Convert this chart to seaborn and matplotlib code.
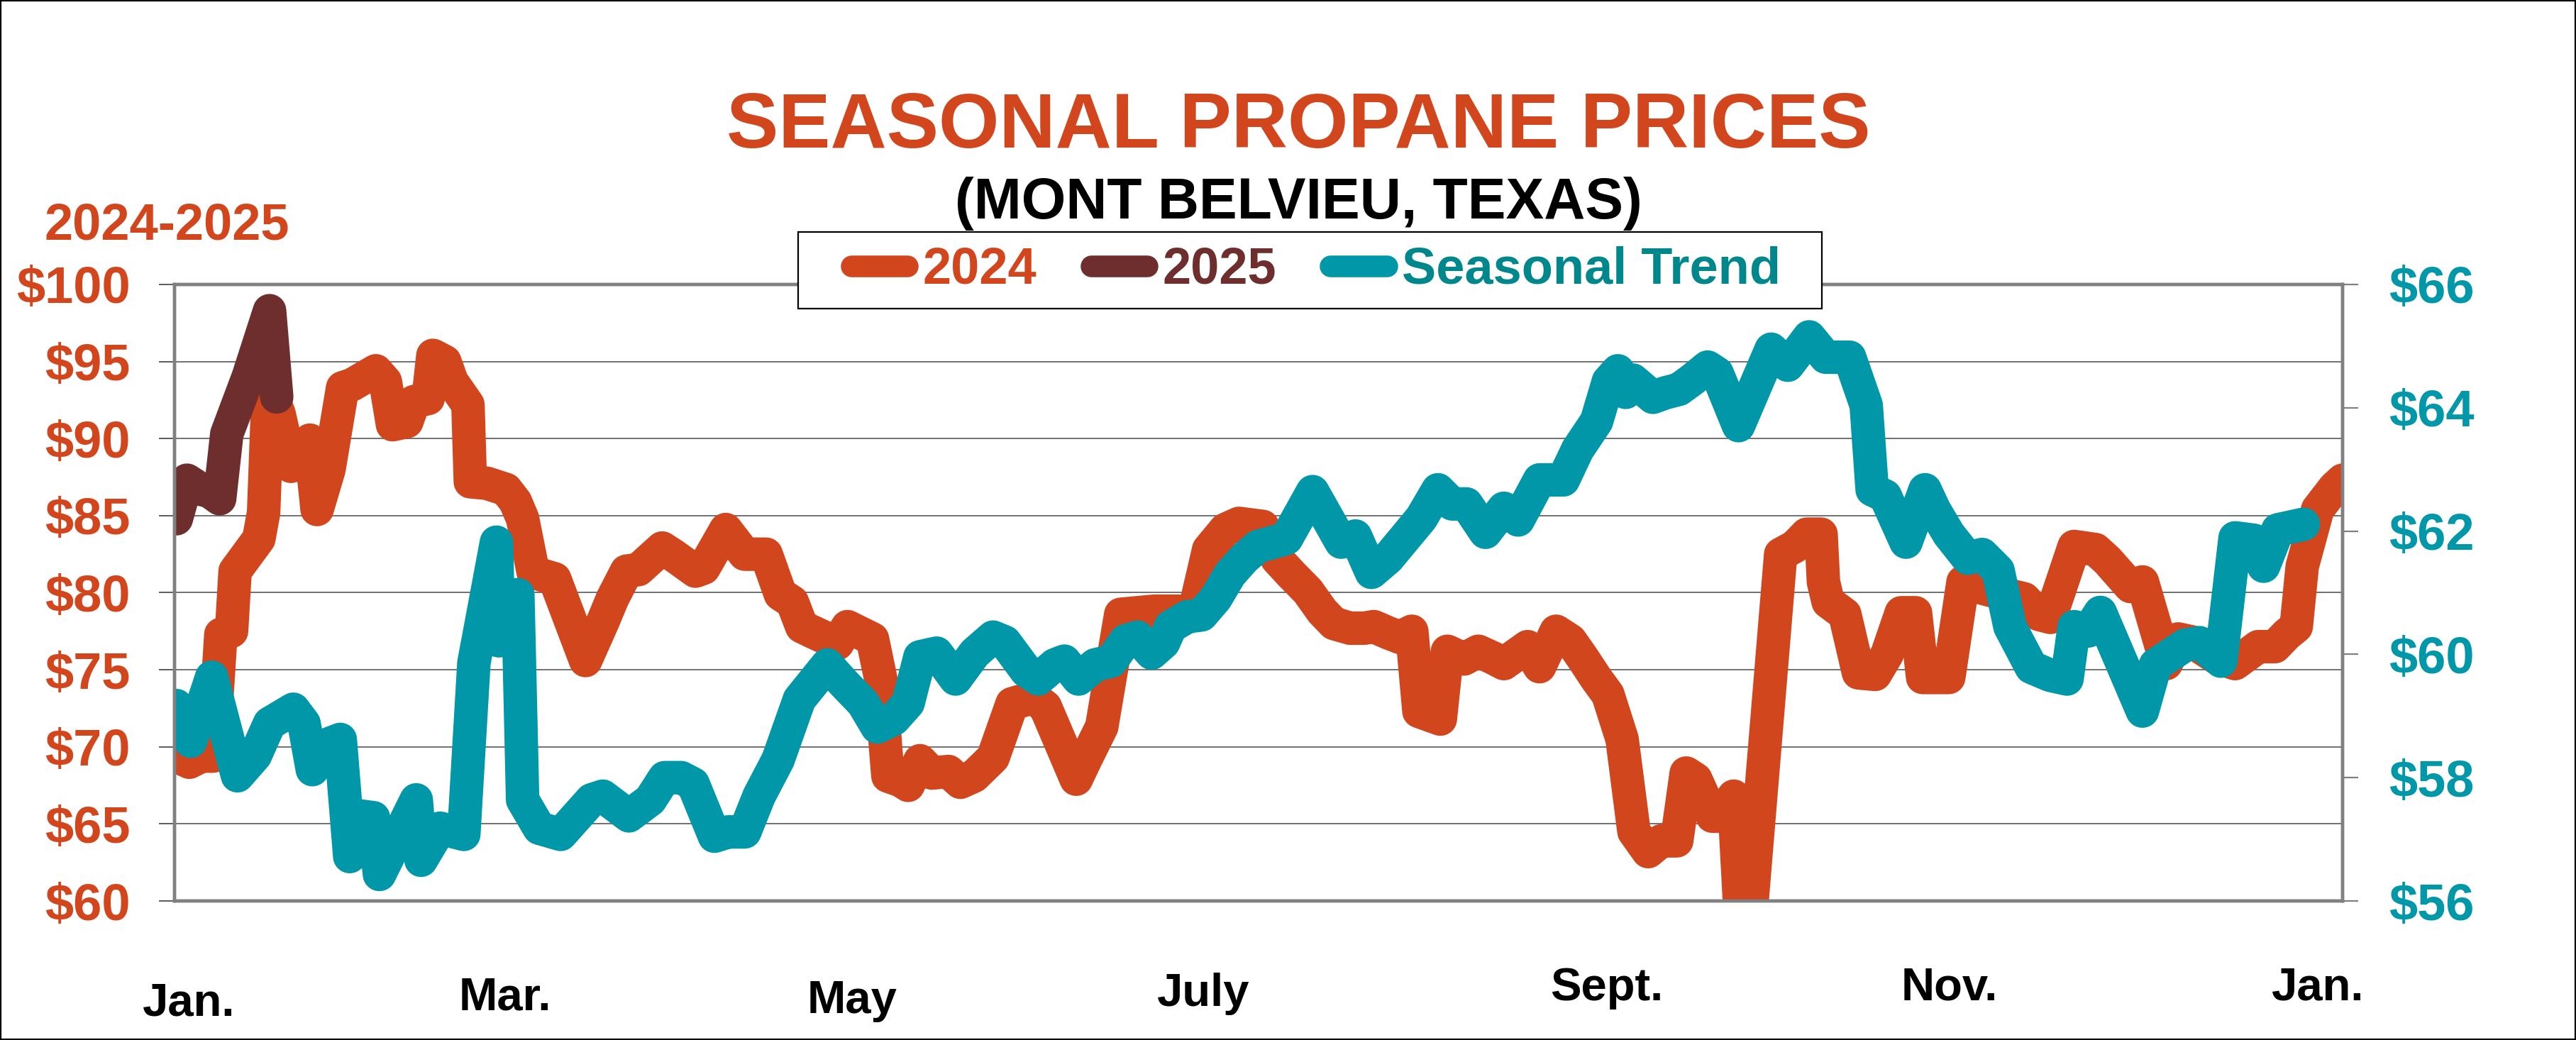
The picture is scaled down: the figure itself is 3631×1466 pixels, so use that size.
import matplotlib
matplotlib.use("Agg")
import matplotlib.pyplot as plt
from matplotlib.lines import Line2D
from matplotlib.patches import Rectangle
import seaborn as sns
import pandas as pd

# ---------------- data (x = day of year) ----------------
orange_days = [0.3, 2.5, 4.5, 6.5, 7.8, 9.6, 10.2, 14.2, 15.0, 15.8, 17.6, 19.6, 21.0, 22.8, 24.0, 26.0,
               28.3, 29.9, 33.9, 35.5, 36.7, 39.1, 40.3, 42.7, 43.5, 45.5, 46.7, 49.4, 49.8, 52.6, 55.8,
               57.4, 58.6, 60.4, 61.4, 64.0, 69.2, 72.2, 73.7, 76.1, 78.1, 82.1, 84.1, 87.7, 89.1, 92.8,
               96.0, 99.6, 102.0, 104.0, 105.6, 107.2, 110.0, 111.6, 113.3, 117.5, 118.9, 119.7, 120.1,
               122.3, 123.5, 125.5, 127.5, 130.3, 132.3, 134.6, 137.8, 141.0, 144.6, 146.6, 151.8, 153.4,
               156.1, 159.3, 164.9, 171.7, 174.1, 176.9, 179.2, 183.2, 185.6, 188.0, 190.8, 193.2, 195.2,
               197.9, 200.3, 201.9, 204.3, 206.3, 208.3, 209.5, 213.1, 214.3, 217.1, 219.5, 221.8, 223.8,
               227.8, 229.8, 232.6, 235.0, 237.0, 239.4, 241.3, 243.7, 245.7, 248.1, 250.3, 252.9, 254.5,
               256.1, 258.9, 260.5, 262.5, 263.7, 265.2, 270.4, 272.8, 274.8, 277.2, 277.6, 278.4, 281.2,
               283.5, 286.3, 288.3, 290.7, 293.1, 294.3, 298.7, 301.1, 304.3, 308.2, 311.4, 313.8, 315.8,
               319.8, 323.4, 325.4, 329.3, 331.3, 335.3, 337.3, 339.7, 343.7, 346.9, 350.8, 353.6, 355.6,
               357.2, 358.2, 360.8, 363.6, 365.0]
orange_vals = [69.4, 69.0, 69.4, 69.4, 77.3, 77.5, 81.4, 83.5, 85.2, 93.5, 91.6, 88.2, 88.4, 89.9, 85.4, 88.0,
               93.3, 93.5, 94.4, 93.7, 90.9, 91.1, 92.4, 92.6, 95.4, 95.0, 93.7, 92.2, 87.2, 87.1, 86.7,
               85.9, 84.8, 81.3, 81.2, 80.9, 75.6, 78.2, 79.6, 81.4, 81.5, 82.9, 82.4, 81.4, 81.6, 84.1,
               82.5, 82.5, 79.9, 79.4, 77.8, 77.5, 77.0, 76.7, 77.8, 77.0, 74.4, 70.0, 68.1,
               67.8, 67.5, 69.1, 68.3, 68.4, 67.7, 68.1, 69.3, 72.8, 73.2, 72.6, 67.9, 69.2,
               71.3, 78.6, 78.8, 78.8, 82.8, 84.1, 84.5, 84.3, 82.2, 81.2, 80.1, 78.8, 78.0,
               77.7, 77.7, 77.8, 77.4, 77.1, 77.5, 72.3, 71.8, 76.2, 75.7, 76.2, 75.8, 75.4,
               76.5, 75.2, 77.5, 76.9, 75.8, 74.4, 73.4, 70.5, 64.5, 63.2, 63.9, 63.9, 68.3,
               67.9, 65.5, 65.5, 66.8, 58.2, 58.2, 82.5, 83.0, 83.8, 83.8, 80.7, 79.4, 78.6,
               74.8, 74.7, 76.0, 78.7, 78.7, 74.5, 74.5, 80.7, 80.3, 79.9, 79.6, 78.6, 78.4,
               83.0, 82.8, 82.1, 80.4, 80.7, 75.4, 77.0, 76.8, 75.8, 75.4, 76.5, 76.5, 77.3,
               77.8, 81.7, 85.4, 86.8, 87.3]

brown_days = [0.3, 2.1, 4.5, 5.8, 7.6, 8.8, 12.4, 16.0, 17.2]
brown_vals = [84.8, 87.3, 86.7, 86.6, 86.1, 90.3, 94.0, 98.3, 92.7]

teal_days = [0.3, 2.7, 6.25, 10.6, 13.6, 16.0, 20.0, 21.8, 23.2, 25.2, 27.9, 29.5, 31.1, 33.5, 34.5, 40.7,
             41.5, 44.7, 48.7, 50.4, 54.2, 54.6, 57.8, 58.6, 61.4, 65.0, 70.2, 72.1, 76.5, 80.1, 82.5,
             85.3, 87.3, 90.9, 93.2, 96.0, 98.4, 101.6, 105.2, 109.9, 112.7, 115.9, 118.3, 121.1, 123.5,
             125.5, 128.3, 131.5, 134.7, 137.8, 139.8, 143.4, 145.4, 148.2, 149.8, 152.2, 155.0, 157.7,
             160.1, 162.1, 164.5, 166.5, 167.7, 170.5, 172.9, 175.3, 177.7, 180.1, 182.4, 187.2, 191.6,
             196.4, 198.8, 201.5, 204.3, 209.9, 212.7, 215.1, 217.5, 220.7, 223.8, 226.2, 229.8, 233.8,
             236.2, 239.4, 241.4, 243.0, 244.3, 245.5, 248.9, 250.9, 253.3, 255.7, 258.1, 259.7, 263.3,
             268.8, 271.6, 275.2, 278.0, 282.0, 284.8, 285.8, 288.0, 291.5, 294.7, 296.3, 298.7, 301.9,
             304.3, 307.0, 309.0, 312.6, 315.8, 318.6, 319.8, 322.2, 324.2, 331.3, 333.5, 338.5, 340.9,
             344.5, 346.9, 350.1, 351.7, 354.1, 358.4]
teal_vals = [59.17, 58.59, 59.63, 58.03, 58.36, 58.88, 59.11, 58.88, 58.13, 58.52, 58.62, 56.72, 57.38, 57.35,
             56.43, 57.64, 56.66, 57.18, 57.08, 59.86, 61.82, 60.22, 60.97, 57.64, 57.18, 57.08, 57.64,
             57.70, 57.38, 57.64, 58.0, 58.0, 57.9, 57.05, 57.12, 57.12, 57.70, 58.29, 59.27, 59.83,
             59.53, 59.21, 58.82, 58.95, 59.21, 59.96, 60.02, 59.6, 60.02, 60.28, 60.2, 59.73, 59.6,
             59.83, 59.89, 59.6, 59.83, 59.89, 60.22, 60.28, 60.02, 60.19, 60.45, 60.61, 60.64, 60.91,
             61.30, 61.56, 61.75, 61.88, 62.64, 61.82, 61.92, 61.33, 61.56, 62.21, 62.67, 62.44, 62.44,
             61.98, 62.37, 62.18, 62.83, 62.83, 63.32, 63.78, 64.43, 64.6, 64.25, 64.45, 64.17, 64.24,
             64.30, 64.47, 64.66, 64.56, 63.71, 64.95, 64.69, 65.15, 64.82, 64.82, 64.04, 62.67, 62.57,
             61.82, 62.67, 62.34, 61.95, 61.56, 61.62, 61.36, 60.45, 59.79, 59.66, 59.6, 60.45, 60.38,
             60.68, 59.08, 59.83, 60.15, 60.19, 59.89, 61.89, 61.85, 61.43, 62.02, 62.11]

left_ticks = [60, 65, 70, 75, 80, 85, 90, 95, 100]
right_ticks = [56, 58, 60, 62, 64, 66]
month_labels = ["Jan.", "Mar.", "May", "July", "Sept.", "Nov.", "Jan."]
legend_labels = ["2024", "2025", "Seasonal Trend"]

# ---------------- style ----------------
ORANGE = "#D2461E"
BROWN = "#6E2E2E"
TEAL = "#0097A9"
TEAL_TEXT = "#00878C"
GRAY = "#808080"

sns.set_style("white")
plt.rcParams["font.family"] = ["Liberation Sans", "DejaVu Sans"]
plt.rcParams["font.weight"] = "bold"

W, H = 3631, 1466
fig = plt.figure(figsize=(W / 100, H / 100), dpi=100)
fig.patch.set_facecolor("white")

x0, x1, ytop, ybot = 246, 3302, 401, 1270
ax = fig.add_axes([x0 / W, 1 - ybot / H, (x1 - x0) / W, (ybot - ytop) / H])
ax2 = ax.twinx()

LW = 34
line_kw = dict(legend=False, sort=False, estimator=None)

df24 = pd.DataFrame({"day": orange_days, "price": orange_vals})
df25 = pd.DataFrame({"day": brown_days, "price": brown_vals})
dftr = pd.DataFrame({"day": teal_days, "price": teal_vals})

sns.lineplot(data=df24, x="day", y="price", ax=ax, color=ORANGE, **line_kw)
sns.lineplot(data=df25, x="day", y="price", ax=ax, color=BROWN, **line_kw)
sns.lineplot(data=dftr, x="day", y="price", ax=ax2, color=TEAL, **line_kw)

for a in (ax, ax2):
    for ln in a.get_lines():
        ln.set_linewidth(LW)
        ln.set_solid_capstyle("round")
        ln.set_solid_joinstyle("round")

ax.set_xlim(0, 365)
ax.set_ylim(60, 100)
ax2.set_ylim(56, 66)
ax.set_xticks([])
ax2.set_xticks([])
ax.set_xlabel("")
ax.set_ylabel("")
ax2.set_ylabel("")

ax.set_yticks(left_ticks)
ax.set_yticklabels([f"${v}" for v in left_ticks])
ax2.set_yticks(right_ticks)
ax2.set_yticklabels([f"${v}" for v in right_ticks])

ax.grid(axis="y", color="#4a4a4a", linewidth=1.1)
ax.set_axisbelow(True)
ax2.grid(False)

ax.tick_params(axis="y", which="major", direction="out", length=16, width=1.2, color="#404040",
               pad=29, labelsize=52, labelcolor=ORANGE, left=True)
ax2.tick_params(axis="y", which="major", direction="out", length=16, width=1.6, color=GRAY,
                pad=31, labelsize=52, labelcolor=TEAL, right=True)
for t in ax.get_yticklabels() + ax2.get_yticklabels():
    t.set_fontweight("bold")

for a in (ax, ax2):
    for s in a.spines.values():
        s.set_color(GRAY)
        s.set_linewidth(3.2)
        s.set_visible(True)

# ---------------- texts ----------------
fig.text(1830 / W, 1 - 208 / H, "SEASONAL PROPANE PRICES", ha="center", va="baseline",
         fontsize=79, color=ORANGE, fontweight="bold")
fig.text(1830 / W, 1 - 308 / H, "(MONT BELVIEU, TEXAS)", ha="center", va="baseline",
         fontsize=58, color="black", fontweight="bold")
fig.text(235 / W, 1 - 338 / H, "2024-2025", ha="center", va="baseline",
         fontsize=52, color=ORANGE, fontweight="bold")

month_x = [266, 712, 1201, 1696, 2265, 2748, 3267]
month_base = [1431, 1423, 1428, 1418, 1410, 1409, 1410]
for lab, mx, my in zip(month_labels, month_x, month_base):
    fig.text(mx / W, 1 - my / H, lab, ha="center", va="baseline", fontsize=47,
             color="black", fontweight="bold")

# ---------------- legend ----------------
box = Rectangle((1125 / W, 1 - 435 / H), (2568 - 1125) / W, (435 - 327) / H,
                transform=fig.transFigure, facecolor="white", edgecolor="black",
                linewidth=1.6, zorder=5)
fig.patches.append(box)

handles = [Line2D([0], [0], color=c, linewidth=22, solid_capstyle="round")
           for c in (ORANGE, BROWN, TEAL)]
leg = fig.legend(handles, legend_labels, loc="center", bbox_to_anchor=(1855 / W, 1 - 381 / H),
                 ncol=3, frameon=False, handlelength=1.1, handletextpad=0.3, columnspacing=1.05,
                 borderpad=0, prop={"size": 52, "weight": "bold"})
leg.set_zorder(6)
for t, c in zip(leg.get_texts(), (ORANGE, BROWN, TEAL_TEXT)):
    t.set_color(c)

# outer frame
fig.patches.append(Rectangle((0, 0), 1, 1, transform=fig.transFigure, fill=False,
                             edgecolor="black", linewidth=3, zorder=10))

fig.savefig("out.png", dpi=100, facecolor="white")
